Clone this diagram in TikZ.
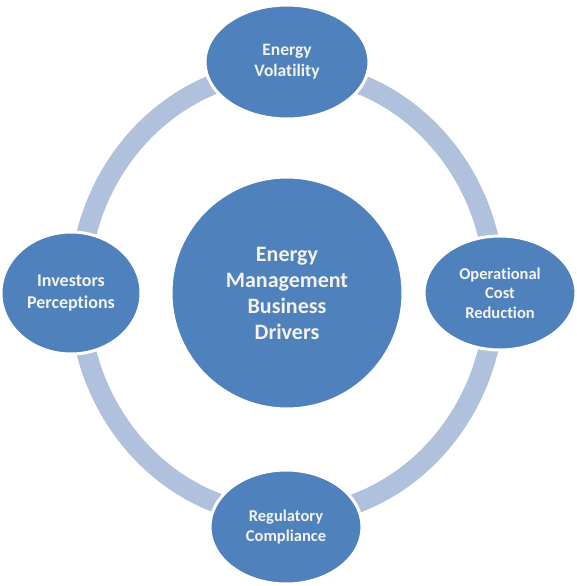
\documentclass[tikz,border=0pt]{standalone}
\usepackage{fontspec}
\setmainfont{Carlito}[Ligatures=NoCommon]
\usetikzlibrary{shapes.geometric}
\definecolor{driverblue}{RGB}{79,129,189}
\definecolor{ringblue}{RGB}{176,193,221}
\definecolor{drivertext}{RGB}{243,243,235}
\tikzset{
  driver/.style={ellipse, fill=driverblue, draw=white, line width=3pt, align=center, inner sep=0pt, text=drivertext, font=\bfseries\fontsize{17}{21}\selectfont},
  hub/.style={driver, circle, minimum size=232pt, font=\bfseries\fontsize{22}{26}\selectfont},
  ring/.style={draw=ringblue, line width=20pt}
}

\begin{document}
\begin{tikzpicture}[x=1pt, y=-1pt]

\useasboundingbox (0,0) rectangle (576,586);
\coordinate (mid) at (287,293);

% ring behind the drivers
\draw[ring] (mid) ellipse [x radius=208pt, y radius=223pt];

\node[hub] (ctr) at (mid) {Energy\\Management\\Business\\Drivers};
\node[driver, minimum width=164pt, minimum height=114pt, font=\bfseries\fontsize{17.5}{21}\selectfont] (vol) at (287,62) {Energy\\Volatility};
\node[driver, minimum width=152pt, minimum height=114pt, font=\bfseries\fontsize{16.5}{19.5}\selectfont] (cost) at (500,293) {Operational\\Cost\\Reduction};
\node[driver, minimum width=152pt, minimum height=114pt, font=\bfseries\fontsize{16.5}{19.5}\selectfont] (comp) at (286,527) {Regulatory\\Compliance};
\node[driver, minimum width=140pt, minimum height=122pt, font=\bfseries\fontsize{18}{22}\selectfont] (inv) at (71,293) {Investors\\Perceptions};

\end{tikzpicture}
\end{document}
